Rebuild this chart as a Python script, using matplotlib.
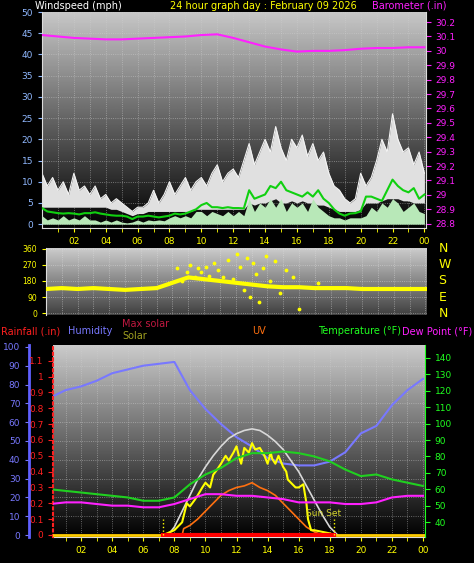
import numpy as np
import matplotlib
matplotlib.use("Agg")
import matplotlib.pyplot as plt

# ---------------- data ----------------
# wind, 20-minute samples 0..24h
gust_hi = [12,9,11, 8,10,7, 12,8,9, 7,9,6, 7,5,6, 5,4,3, 4,4,5, 8,5,7, 10,7,9, 11,8,10,
           11,9,12, 14,10,12, 13,11,15, 19,14,17, 20,17,23, 18,15,20, 18,21,16, 19,15,17,
           12,9,8, 6,5,6, 12,9,11, 15,20,17, 26,20,17, 18,14,17, 12]
gust_lo = [4,4,4, 4,4,4, 4,4,4, 4,4,4, 4,3.5,3.5, 3,2.5,2, 2.5,2.5,3, 3,3,3, 3,3,3, 3,3,3.5,
           3.5,3.5,3.5, 3.5,3.5,3.5, 3.5,3.5,3.5, 5,4.5,5, 5,5.5,6, 5,5,5.5, 5,5.5,5, 5,4.5,4.5,
           4,3.5,3, 3,3,3, 3.5,5,5, 5,5.5,6, 6,6,5.5, 5.5,5,5, 5]
wind_avg = [3.8,3,2.8, 2.6,2.5,2.6, 2.5,2.3,2.6, 2.6,2.8,2.5, 2.3,2.1,2, 2,1.8,1.2, 1.8,1.8,2,
            1.8,1.6,1.8, 2,2.5,2.3, 2.5,3,3.5, 4.5,5,4, 4,3.8,4, 3.8,3.8,3.7, 8,6,6.5,
            7,9,8.5, 10,8,7.5, 7,6.5,7.5, 6.5,8,6, 5,3.5,2.5, 2,2.5,2.6, 3,6.5,6.5,
            6,5.5,8, 10.5,9,8, 7.5,8.5,6, 7]
wind_lo = [2,1,1.5, 1,2,1, 1.5,1,2, 1,1,0.5, 1,0.5,1, 0.5,0.3,0.5, 1,0.5,1, 0.8,1,0.8,
           1.5,2,1.5, 2,1.5,3, 3,2,3, 2.5,2,3, 2,3,2, 6,3,5, 4,6,4, 6,3,5, 4,5,3, 6,4,3,
           2,1.5,1.5, 1,1.5,1.5, 1.5,2,4, 3,5,4, 6,5,3, 4,5,3, 2.5]
baro = [30.11,30.10,30.09,30.085,30.08,30.08,30.085,30.09,30.095,30.10,30.11,30.115,30.09,
        30.06,30.03,30.01,29.995,30.0,30.0,30.005,30.015,30.02,30.02,30.025,30.025]
# wind direction
dir_base = [135,140,135,140,135,130,135,140,170,200,190,180,170,160,150,145,145,140,140,
            140,135,135,135,135,135]
dir_t = [8.3,8.6,8.9,9.1,9.4,9.6,9.8,10.1,10.3,10.6,10.9,11.2,11.5,11.8,12.1,12.3,12.5,
         12.7,12.9,13.1,13.3,13.5,13.7,13.9,14.2,14.5,14.8,15.2,15.6,16.0,17.2]
dir_v = [250,180,230,270,200,250,230,260,210,280,240,200,300,190,330,260,130,310,90,
         280,220,60,250,320,180,290,110,240,200,20,170]
# bottom panel
humidity = [73,77,79,82,86,88,90,91,92,77,67,59,52,47,41,38,37,37,39,44,54,58,69,77,83]
temperature = [60,59,58,57,56,55,53,53,55,63,69,73,79,82,82,83,82,80,77,72,68,69,66,64,62]
dewpoint = [51,52,52,51,50,50,49,49,51,54,57,57,56,56,55,54,52,52,52,51,51,52,55,56,56]
maxsol_t = [7.6,8,8.5,9,9.5,10,10.5,11,11.5,12,12.5,13,13.5,14,14.5,15,15.5,16,16.5,17,17.5,18,18.5]
maxsol_v = [0,0.05,0.15,0.25,0.35,0.43,0.5,0.56,0.61,0.64,0.66,0.67,0.66,0.63,0.59,0.54,
            0.47,0.40,0.31,0.22,0.13,0.05,0]
sol_t = [7.3,8,8.5,8.8,9,9.3,9.5,9.8,10,10.3,10.5,10.8,11,11.3,11.5,11.8,12,12.2,12.3,12.5,
         12.8,13,13.2,13.5,13.8,14,14.2,14.3,14.5,14.7,15,15.2,15.3,15.5,15.8,16,16.3,16.5,
         16.6,16.8,17,17.5,18,18.3]
sol_v = [0,0.03,0.08,0.2,0.18,0.22,0.25,0.3,0.33,0.3,0.38,0.42,0.45,0.5,0.47,0.52,0.56,0.48,
         0.45,0.55,0.52,0.58,0.54,0.55,0.5,0.45,0.52,0.48,0.45,0.5,0.43,0.4,0.35,0.33,0.3,
         0.3,0.32,0.2,0.1,0.03,0.03,0.02,0.01,0]
uv_t = [8.5,8.6,9,9.5,10,10.5,11,11.5,12,12.5,13,13.5,14,14.5,15,15.5,16,16.5,17,17.5]
uv_v = [0,0.04,0.06,0.1,0.15,0.2,0.25,0.28,0.3,0.31,0.33,0.3,0.28,0.25,0.2,0.15,0.1,0.05,0.02,0]
sunrise, sunset = 7.3, 18.3

xt = [2,4,6,8,10,12,14,16,18,20,22,24]
xtl = ["02","04","06","08","10","12","14","16","18","20","22","00"]

W, H = 474, 563
fig = plt.figure(figsize=(W/100, H/100), dpi=100, facecolor="black")
plt.rcParams['font.family'] = ['DejaVu Sans']
FS = 6.5

def ax_px(l, t, r, b):
    return fig.add_axes([l/W, 1-b/H, (r-l)/W, (b-t)/H])

def gradient(ax, top, bottom):
    g = np.linspace(top, bottom, 256).reshape(-1, 1)
    ax.imshow(g, cmap="gray", vmin=0, vmax=1, aspect="auto",
              extent=(0, 1, 0, 1), transform=ax.transAxes, zorder=0)

def style(ax):
    ax.set_facecolor("black")
    for s in ax.spines.values():
        s.set_visible(False)
    ax.tick_params(colors="#cccccc", labelsize=FS, length=3)

# ---------- top panel ----------
t20 = np.arange(len(gust_hi)) / 3.0
th = np.arange(25)
ax1 = ax_px(42, 12, 426, 228)
style(ax1)
gradient(ax1, 0.78, 0.0)
ax1.set_xlim(0, 24.1)
ax1.set_ylim(-0.9, 50)
ax1.fill_between(t20, gust_lo, gust_hi, color="#e0e0e0", lw=0, zorder=2)
ax1.plot(t20, gust_hi, color="#f4f4f4", lw=0.8, zorder=2)
ax1.fill_between(t20, 0, wind_lo, color="#b8e8b8", lw=0, zorder=3)
ax1.plot(t20, wind_avg, color="#10d010", lw=1.5, zorder=4)
ax1.set_xticks(xt, xtl)
ax1.set_xticks(np.arange(1, 25), minor=True)
ax1.set_yticks(range(0, 51, 5))
ax1.grid(True, which="both", color="#d0d0d0", ls=":", lw=0.6, alpha=0.6)
ax1.tick_params(axis="x", colors="#ffff00", labelsize=FS, which="both", length=3)
ax1.tick_params(axis="y", colors="#90b8ff", labelsize=FS)
ax1.spines["left"].set_visible(True); ax1.spines["left"].set_color("#dddddd")
ax1.spines["bottom"].set_visible(True); ax1.spines["bottom"].set_color("#dddddd")
ax1b = ax1.twinx()
ax1b.set_ylim(28.77, 30.27)
ax1b.plot(th, baro, color="#ff20ff", lw=1.5, zorder=5)
ax1b.set_yticks(np.round(np.arange(28.8, 30.21, 0.1), 1))
ax1b.set_yticklabels(["28.8","28.9","29","29.1","29.2","29.3","29.4","29.5","29.6","29.7",
                      "29.8","29.9","30","30.1","30.2"])
for s in ax1b.spines.values():
    s.set_visible(False)
ax1b.spines["right"].set_visible(True); ax1b.spines["right"].set_color("#dddddd")
ax1b.tick_params(axis="y", colors="#ff20ff", labelsize=FS)
fig.text(35/W, 1-6/H, "Windspeed (mph)", color="white", fontsize=7, va="center")
fig.text(263/W, 1-6/H, "24 hour graph day : February 09 2026", color="#ffff00", fontsize=7,
         va="center", ha="center")
fig.text(447/W, 1-6/H, "Barometer (.in)", color="#ff20ff", fontsize=7, va="center", ha="right")

# ---------- middle panel ----------
ax2 = ax_px(46, 248, 427, 315)
style(ax2)
gradient(ax2, 0.8, 0.25)
ax2.set_xlim(0, 24.1)
ax2.set_ylim(-11, 365)
ax2.plot(th, dir_base, color="#ffff00", lw=3, zorder=3)
ax2.scatter(dir_t, dir_v, s=3, color="#ffff00", zorder=4)
ax2.set_yticks([0, 90, 180, 270, 360])
ax2.set_xticks(np.arange(1, 25))
ax2.set_xticklabels([])
ax2.tick_params(axis="x", length=0)
ax2.grid(True, color="#e0e0e0", ls=":", lw=0.6, alpha=0.6)
ax2.tick_params(axis="y", colors="#ffff00", labelsize=5.5)
ax2.spines["left"].set_visible(True); ax2.spines["left"].set_color("#dddddd")
for lab, v in zip(["N", "W", "S", "E", "N"], [360, 270, 180, 90, 0]):
    ax2.text(1.03, (v + 11) / 376, lab, transform=ax2.transAxes, color="#ffff00",
             fontsize=9, va="center", ha="left")

# ---------- bottom panel ----------
ax3 = ax_px(53, 345, 425, 537)
style(ax3)
gradient(ax3, 0.8, 0.0)
ax3.set_xlim(0.19, 24.13)
ax3.set_ylim(-1.06, 101)
ax3.plot(th, humidity, color="#7878ff", lw=1.5, zorder=3)
ax3.set_xticks(xt, xtl)
ax3.set_xticks(np.arange(1, 25), minor=True)
ax3.set_yticks(range(0, 101, 10))
ax3.grid(True, which="both", color="#d0d0d0", ls=":", lw=0.6, alpha=0.6)
ax3.tick_params(axis="x", colors="#ffff00", labelsize=FS, which="both", length=3)
ax3.spines["left"].set_visible(True); ax3.spines["left"].set_color("#6060ff")
ax3.spines["left"].set_position(("outward", 17))
ax3.spines["left"].set_linewidth(2)
ax3.tick_params(axis="y", colors="#7878ff", labelsize=FS)
ax3.spines["bottom"].set_visible(True); ax3.spines["bottom"].set_color("#dddddd")

axr = ax3.twinx()
for s in axr.spines.values():
    s.set_visible(False)
axr.yaxis.set_ticks_position("left")
axr.yaxis.set_label_position("left")
axr.spines["left"].set_visible(True); axr.spines["left"].set_color("#ff2020")
axr.spines["left"].set_linestyle(":"); axr.spines["left"].set_linewidth(1.5)
axr.set_ylim(-0.013, 1.2)
axr.set_yticks(np.round(np.arange(0, 1.11, 0.1), 1))
axr.set_yticklabels(["0","0.1","0.2","0.3","0.4","0.5","0.6","0.7","0.8","0.9","1","1.1"])
axr.tick_params(axis="y", colors="#ff2020", labelsize=FS)
axr.plot(maxsol_t, maxsol_v, color="#d8d8d8", lw=1.2, zorder=3)
axr.plot(uv_t, uv_v, color="#ff7010", lw=1.2, zorder=4)
axr.plot(sol_t, sol_v, color="#ffff00", lw=1.5, zorder=5)
axr.plot([0.19, 24.13], [0, 0], color="#ffcc00", lw=2, zorder=5)
axr.plot([sunrise, sunset], [0, 0], color="#ff0000", lw=3, zorder=6)
axr.vlines([sunrise, sunset], 0, 0.1, color="#ffff00", ls=":", lw=1, zorder=6)
axr.text(17.6, 0.12, "Sun Set", color="#d8d830", fontsize=6.5, ha="center", zorder=7)

axt = ax3.twinx()
for s in axt.spines.values():
    s.set_visible(False)
axt.spines["right"].set_visible(True); axt.spines["right"].set_color("#20ff20")
axt.set_ylim(30.9, 147.9)
axt.set_yticks(range(40, 141, 10))
axt.tick_params(axis="y", colors="#20ff20", labelsize=FS)
axt.plot(th, temperature, color="#20d020", lw=1.5, zorder=3)
axt.plot(th, dewpoint, color="#ff20ff", lw=1.5, zorder=3)

fig.text(1/W, 1-331/H, "Rainfall (.in)", color="#ff2020", fontsize=7, va="center")
fig.text(68/W, 1-331/H, "Humidity", color="#7878ff", fontsize=7, va="center")
fig.text(122/W, 1-324/H, "Max solar", color="#c01840", fontsize=7, va="center")
fig.text(122/W, 1-336/H, "Solar", color="#a0a020", fontsize=7, va="center")
fig.text(252/W, 1-331/H, "UV", color="#ff7010", fontsize=7, va="center")
fig.text(318/W, 1-331/H, "Temperature (°F)", color="#20ff20", fontsize=7, va="center")
fig.text(402/W, 1-331/H, "Dew Point (°F)", color="#ff20ff", fontsize=7, va="center")

fig.savefig("out.png", dpi=100, facecolor="black")
